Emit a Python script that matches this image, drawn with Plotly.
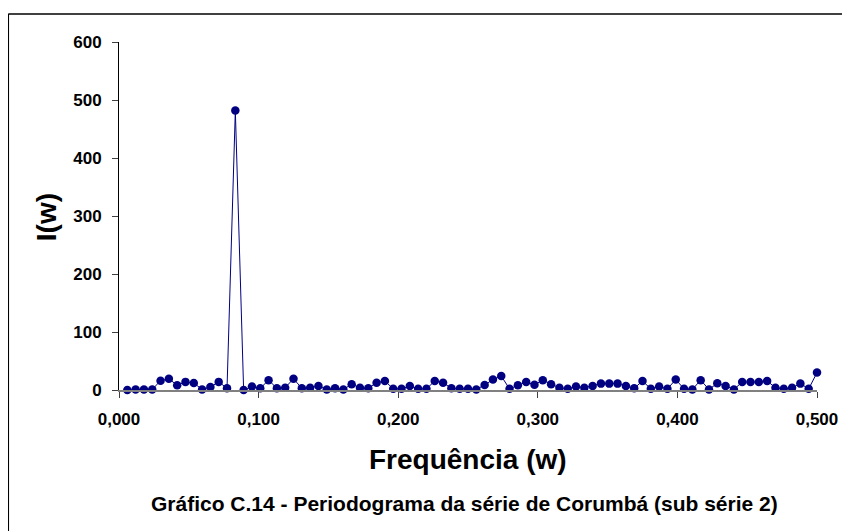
import plotly.graph_objects as go

# Fourier frequencies k/168, k = 1..84
n_obs = 168
harmonics = list(range(1, 85))
frequencies = [k / n_obs for k in harmonics]

periodogram = [
    0, 1, 1, 1, 16, 19.5, 8, 14, 12, 1, 5, 14, 3,
    482,
    0, 6, 3, 17, 3, 4, 19.5, 3, 4, 7, 1, 3, 1, 10,
    4, 3, 12.6, 15.5, 2, 2, 7, 2, 2, 15.5, 12.6, 3, 2, 2, 1, 8.6,
    18, 24, 2, 8, 13.7, 9, 17, 10, 4, 2, 6, 4,
    7, 11, 11, 11, 7, 3, 15.5, 2, 6, 2, 18, 2, 1, 17, 1, 11.5,
    7, 1, 13.7, 13.7, 13.7, 15.5, 4, 2, 4, 11, 2, 30,
]

x_ticks = [0.0, 0.1, 0.2, 0.3, 0.4, 0.5]
x_tick_labels = ["0,000", "0,100", "0,200", "0,300", "0,400", "0,500"]
y_ticks = [0, 100, 200, 300, 400, 500, 600]

FONT = "Arial, 'Liberation Sans', sans-serif"
NAVY = "#000080"

fig = go.Figure()
fig.add_trace(go.Scatter(
    x=frequencies, y=periodogram, mode="lines+markers",
    line=dict(color=NAVY, width=1),
    marker=dict(color=NAVY, size=8.5),
    cliponaxis=False, showlegend=False,
))

fig.update_layout(
    width=842, height=523,
    margin=dict(l=111, r=31, t=34, b=141),
    paper_bgcolor="white", plot_bgcolor="white",
    font=dict(family=FONT, color="black"),
    xaxis=dict(
        range=[0, 0.5], tickvals=x_ticks, ticktext=x_tick_labels,
        showgrid=False, zeroline=False, showline=True, linecolor="#808080", linewidth=1.5,
        ticks="outside", ticklen=6, tickcolor="#404040", tickwidth=1,
        tickfont=dict(family=FONT, size=17, color="black", weight="bold"),
        ticklabelstandoff=7,
    ),
    yaxis=dict(
        range=[0, 600], tickvals=y_ticks,
        showgrid=False, zeroline=False, showline=True, linecolor="black", linewidth=1,
        ticks="outside", ticklen=6, tickcolor="#404040", tickwidth=1,
        tickfont=dict(family=FONT, size=17, color="black", weight="bold"),
        ticklabelstandoff=7,
    ),
    shapes=[
        dict(type="line", xref="paper", yref="paper", x0=-0.1586, x1=2, y0=1.0805, y1=1.0805,
             line=dict(color="black", width=1.5)),
        dict(type="line", xref="paper", yref="paper", x0=-0.1586, x1=-0.1586, y0=1.0805, y1=-2,
             line=dict(color="black", width=1.5)),
    ],
    annotations=[
        dict(text="Frequência (w)", xref="paper", yref="paper",
             x=(469 - 119) / 700, y=(390 - 459) / 348, xanchor="center", yanchor="middle",
             showarrow=False, font=dict(family=FONT, size=28, color="black", weight="bold")),
        dict(text="Gráfico C.14 - Periodograma da série de Corumbá (sub série 2)",
             xref="paper", yref="paper",
             x=(465 - 119) / 700, y=(390 - 503) / 348, xanchor="center", yanchor="middle",
             showarrow=False, font=dict(family=FONT, size=21, color="black", weight="bold")),
        dict(text="I(w)", xref="paper", yref="paper", textangle=-90,
             x=(46 - 119) / 700, y=(390 - 217) / 348, xanchor="center", yanchor="middle",
             showarrow=False, font=dict(family=FONT, size=28, color="black", weight="bold")),
    ],
)

fig.write_html("out.html")
